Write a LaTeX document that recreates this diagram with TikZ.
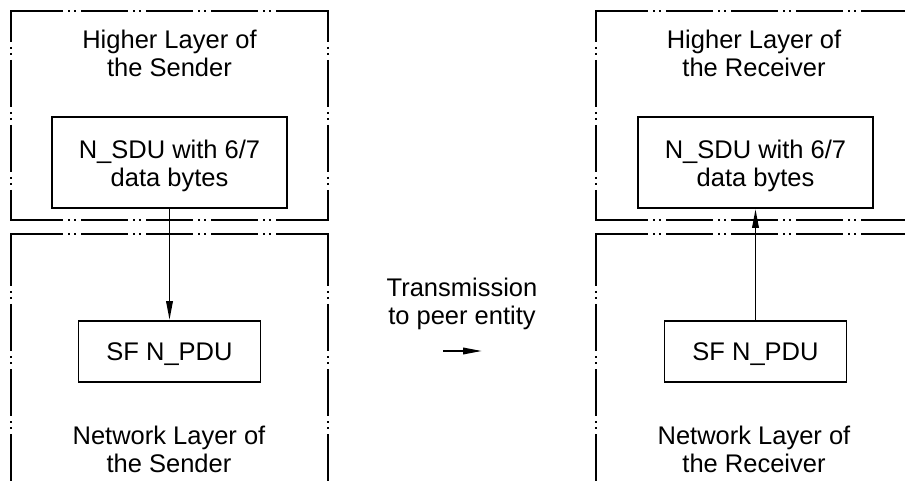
\documentclass[tikz,border=0pt]{standalone}
\usepackage{fontspec}
\setmainfont{Liberation Sans}
\usetikzlibrary{arrows.meta}
\tikzset{
  rsdash/.style={line width=1.9pt, dash pattern=on 47pt off 5pt on 2pt off 4pt on 2pt off 5pt},
  rssolid/.style={line width=1.9pt, line join=miter},
  rsbox/.style={draw, line width=1.9pt, rectangle, inner sep=0pt},
  rslbl/.style={anchor=base, inner sep=0pt, font=\fontsize{25.5}{28}\selectfont},
  rsarr/.style={line width=1.9pt, -{Triangle[length=19pt,width=6.5pt]}}
}
\newcommand\rsHigher[3]{%
  \draw[rsdash] ({#1+5},#2) -- ({#1+312},#2);
  \draw[rsdash] ({#1+5},#3) -- ({#1+312},#3);
  \draw[rsdash,dash phase=16pt] (#1,#2) -- (#1,#3);
  \draw[rsdash,dash phase=16pt] ({#1+317},#2) -- ({#1+317},#3);
  \draw[rssolid] ({#1+8},#2) -- (#1,#2) -- (#1,{#2+8});
  \draw[rssolid] ({#1+309},#2) -- ({#1+317},#2) -- ({#1+317},{#2+8});
  \draw[rssolid] ({#1+8},#3) -- (#1,#3) -- (#1,{#3-8});
  \draw[rssolid] ({#1+309},#3) -- ({#1+317},#3) -- ({#1+317},{#3-8});
}
\newcommand\rsNetwork[2]{%
  \draw[rsdash] ({#1+5},#2) -- ({#1+312},#2);
  \draw[rsdash] (#1,{#2+5}) -- (#1,510);
  \draw[rsdash] ({#1+317},{#2+5}) -- ({#1+317},510);
  \draw[rssolid] ({#1+8},#2) -- (#1,#2) -- (#1,{#2+8});
  \draw[rssolid] ({#1+309},#2) -- ({#1+317},#2) -- ({#1+317},{#2+8});
}
\begin{document}
\begin{tikzpicture}[x=1pt,y=-1pt]
\useasboundingbox (0,0) rectangle (905,486);
\clip (0,0) rectangle (905,486);
\fill[white] (0,0) rectangle (905,486);

% layer frames
\rsHigher{11}{11}{220}
\rsNetwork{11}{234}
\rsHigher{596}{11}{220}
\rsNetwork{596}{234}

% sender
\node[rslbl] (hs1) at (169.5,49) {Higher Layer of};
\node[rslbl] (hs2) at (169.5,77) {the Sender};
\node[rsbox, minimum width=235pt, minimum height=91pt] (sdu1) at (169.5,162.5) {};
\node[rslbl] (sdu1a) at (169.5,159) {N\_SDU with 6/7};
\node[rslbl] (sdu1b) at (169.5,187) {data bytes};
\node[rsbox, minimum width=182pt, minimum height=61pt] (pdu1) at (169.5,351.5) {};
\node[rslbl] (pdu1a) at (169.5,360) {SF N\_PDU};
\node[rslbl] (ns1) at (169,444) {Network Layer of};
\node[rslbl] (ns2) at (169,472) {the Sender};
\draw[rsarr] (sdu1.south) -- (pdu1.north);

% receiver
\node[rslbl] (hr1) at (754,49) {Higher Layer of};
\node[rslbl] (hr2) at (754,77) {the Receiver};
\node[rsbox, minimum width=235pt, minimum height=91pt] (sdu2) at (755.5,162.5) {};
\node[rslbl] (sdu2a) at (755.5,159) {N\_SDU with 6/7};
\node[rslbl] (sdu2b) at (755.5,187) {data bytes};
\node[rsbox, minimum width=182pt, minimum height=61pt] (pdu2) at (755.5,351.5) {};
\node[rslbl] (pdu2a) at (755.5,360) {SF N\_PDU};
\node[rslbl] (nr1) at (754,444) {Network Layer of};
\node[rslbl] (nr2) at (754,472) {the Receiver};
\draw[rsarr] (pdu2.north) -- (sdu2.south);

% transmission
\node[rslbl] (tx1) at (462,297) {Transmission};
\node[rslbl] (tx2) at (462,325) {to peer entity};
\coordinate (ta) at (443,351);
\coordinate (tb) at (482,351);
\draw[rsarr] (ta) -- (tb);
\end{tikzpicture}
\end{document}
